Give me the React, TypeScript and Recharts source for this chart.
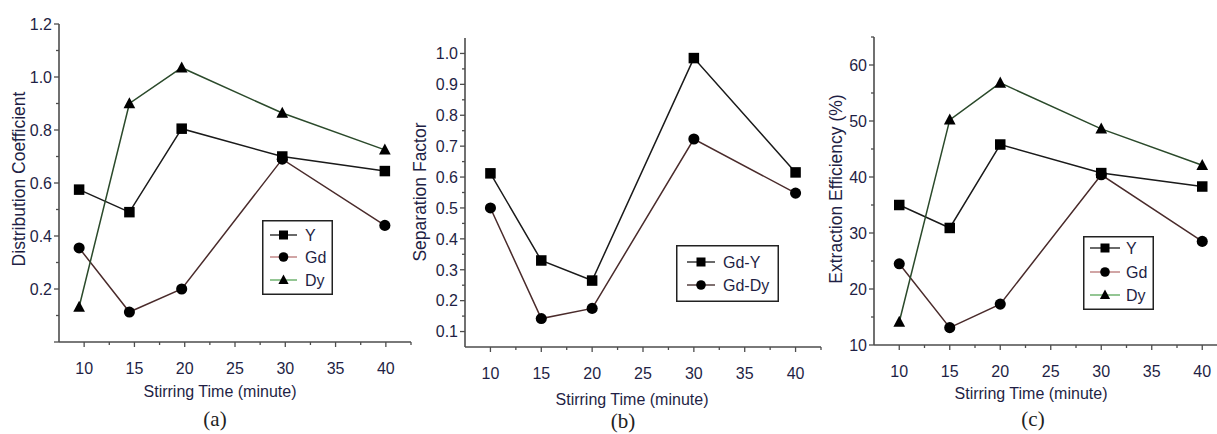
import React from 'react';
import { LineChart, Line, XAxis, YAxis, Legend } from 'recharts';

// ---------- data ----------
// Panel (a): Distribution coefficient
const stirTimeA = [9.5, 14.5, 19.7, 29.7, 39.9];
const distY = [0.575, 0.49, 0.805, 0.7, 0.645];
const distGd = [0.355, 0.113, 0.2, 0.69, 0.44];
const distDy = [0.132, 0.9, 1.035, 0.864, 0.725];

// Panel (b): Separation factor
const stirTimeB = [10, 15, 20, 30, 40];
const sepGdY = [0.612, 0.33, 0.265, 0.985, 0.615];
const sepGdDy = [0.5, 0.142, 0.175, 0.723, 0.548];

// Panel (c): Extraction efficiency (%)
const stirTimeC = [10, 15, 20, 30, 40];
const effY = [35, 30.9, 45.8, 40.7, 38.3];
const effGd = [24.5, 13.1, 17.3, 40.4, 28.5];
const effDy = [14.1, 50.2, 56.8, 48.6, 42.1];

// ticks
const xTicks = [10, 12.5, 15, 17.5, 20, 22.5, 25, 27.5, 30, 32.5, 35, 37.5, 40, 42.5];
const xMajor = [10, 15, 20, 25, 30, 35, 40];
const yTicksA = [0, 0.1, 0.2, 0.3, 0.4, 0.5, 0.6, 0.7, 0.8, 0.9, 1.0, 1.1, 1.2];
const yMajorA = [0.2, 0.4, 0.6, 0.8, 1.0, 1.2];
const yTicksB = [0.1, 0.15, 0.2, 0.25, 0.3, 0.35, 0.4, 0.45, 0.5, 0.55, 0.6, 0.65, 0.7, 0.75, 0.8, 0.85, 0.9, 0.95, 1.0];
const yMajorB = [0.1, 0.2, 0.3, 0.4, 0.5, 0.6, 0.7, 0.8, 0.9, 1.0];
const yTicksC = [10, 15, 20, 25, 30, 35, 40, 45, 50, 55, 60, 65];
const yMajorC = [10, 20, 30, 40, 50, 60];

const dataA = stirTimeA.map((x, i) => ({ x, Y: distY[i], Gd: distGd[i], Dy: distDy[i] }));
const dataB = stirTimeB.map((x, i) => ({ x, 'Gd-Y': sepGdY[i], 'Gd-Dy': sepGdDy[i] }));
const dataC = stirTimeC.map((x, i) => ({ x, Y: effY[i], Gd: effGd[i], Dy: effDy[i] }));

// ---------- styles ----------
const TEXT = '#1f1f45';
const AXIS = '#4d4d4d';
const SANS = '"Liberation Sans", Arial, sans-serif';
const SERIF = '"Liberation Serif", "Times New Roman", serif';

type Shape = 'square' | 'circle' | 'triangle';
interface SeriesCfg { key: string; shape: Shape; stroke: string; legendStroke: string }

const seriesElem: SeriesCfg[] = [
  { key: 'Y', shape: 'square', stroke: '#1a1a1a', legendStroke: '#1a1a1a' },
  { key: 'Gd', shape: 'circle', stroke: '#4a2b2b', legendStroke: '#b87474' },
  { key: 'Dy', shape: 'triangle', stroke: '#2b4a2b', legendStroke: '#5aa85a' },
];
const seriesSep: SeriesCfg[] = [
  { key: 'Gd-Y', shape: 'square', stroke: '#1a1a1a', legendStroke: '#1a1a1a' },
  { key: 'Gd-Dy', shape: 'circle', stroke: '#4a2b2b', legendStroke: '#3a2222' },
];

function Marker({ shape, cx, cy, size }: { shape: Shape; cx: number; cy: number; size: number }) {
  if (shape === 'square') {
    return <rect x={cx - size / 2} y={cy - size / 2} width={size} height={size} fill="#000" />;
  }
  if (shape === 'circle') {
    return <circle cx={cx} cy={cy} r={size / 2 + 0.3} fill="#000" />;
  }
  const h = size * 1.0;
  return (
    <polygon
      points={`${cx},${cy - h * 0.6} ${cx - size / 2 - 0.6},${cy + h * 0.45} ${cx + size / 2 + 0.6},${cy + h * 0.45}`}
      fill="#000"
    />
  );
}

const makeDot = (shape: Shape) => (props: any) => {
  const { cx, cy, index } = props;
  if (cx == null || cy == null) return <g key={`e-${index}`} />;
  return (
    <g key={`m-${shape}-${index}`}>
      <Marker shape={shape} cx={cx} cy={cy} size={10.5} />
    </g>
  );
};

const XTick = (props: any) => {
  const { x, y, payload } = props;
  const v = payload.value;
  const major = xMajor.includes(v);
  return (
    <g>
      <line x1={x} y1={y} x2={x} y2={y + (major ? 5 : 3)} stroke={AXIS} strokeWidth={1.3} />
      {major && (
        <text x={x} y={y + 32} textAnchor="middle" fontSize={16} fill={TEXT} fontFamily={SANS}>
          {v}
        </text>
      )}
    </g>
  );
};

const makeYTick = (majors: number[], fmt: (v: number) => string) => (props: any) => {
  const { x, y, payload } = props;
  const v = payload.value;
  const major = majors.includes(v) || v === 0;
  const labelled = majors.includes(v);
  return (
    <g>
      <line x1={x} y1={y} x2={x - (major ? 5 : 3)} y2={y} stroke={AXIS} strokeWidth={1.3} />
      {labelled && (
        <text x={x - 7} y={y} dy="0.36em" textAnchor="end" fontSize={16} fill={TEXT} fontFamily={SANS}>
          {fmt(v)}
        </text>
      )}
    </g>
  );
};

interface LegendGeom { left: number; top: number; width: number; height: number; rows: number[]; lineX1: number; lineX2: number; textX: number }

const LegendBox = ({ g, series }: { g: LegendGeom; series: SeriesCfg[] }) => (
  <svg width={g.width} height={g.height} style={{ display: 'block' }}>
    <rect x={0.75} y={0.75} width={g.width - 1.5} height={g.height - 1.5} fill="#fff" stroke="#222" strokeWidth={1.5} />
    {series.map((s, i) => {
      const cy = g.rows[i];
      const cx = (g.lineX1 + g.lineX2) / 2;
      return (
        <g key={s.key}>
          <line x1={g.lineX1} y1={cy} x2={g.lineX2} y2={cy} stroke={s.legendStroke} strokeWidth={1.3} />
          <Marker shape={s.shape} cx={cx} cy={cy} size={9} />
          <text x={g.textX} y={cy} dy="0.36em" fontSize={16} fill={TEXT} fontFamily={SANS}>
            {s.key}
          </text>
        </g>
      );
    })}
  </svg>
);

interface PanelProps {
  left: number;
  width: number;
  height: number;
  margin: { top: number; right: number; bottom: number; left: number };
  data: any[];
  series: SeriesCfg[];
  yDomain: [number, number];
  yTicks: number[];
  yMajor: number[];
  fmt: (v: number) => string;
  legend: LegendGeom;
}

const Panel = (p: PanelProps) => (
  <div style={{ position: 'absolute', left: p.left, top: 0 }}>
    <LineChart width={p.width} height={p.height} data={p.data} margin={p.margin}>
      <XAxis
        type="number"
        dataKey="x"
        domain={[7.5, 42.5]}
        ticks={xTicks}
        interval={0}
        tickSize={0}
        tickMargin={0}
        tick={(t: any) => <XTick {...t} />}
        axisLine={{ stroke: AXIS, strokeWidth: 1.6 }}
        height={30}
        allowDataOverflow
      />
      <YAxis
        type="number"
        domain={p.yDomain}
        ticks={p.yTicks}
        interval={0}
        tickSize={0}
        tickMargin={0}
        tick={makeYTick(p.yMajor, p.fmt)}
        axisLine={{ stroke: AXIS, strokeWidth: 1.6 }}
        width={50}
        allowDataOverflow
      />
      {p.series.map((s) => (
        <Line
          key={s.key}
          type="linear"
          dataKey={s.key}
          stroke={s.stroke}
          strokeWidth={1.5}
          dot={makeDot(s.shape)}
          activeDot={false}
          isAnimationActive={false}
        />
      ))}
      <Legend
        layout="vertical"
        align="center"
        verticalAlign="middle"
        wrapperStyle={{ left: p.legend.left - p.left, top: p.legend.top, width: p.legend.width, height: p.legend.height }}
        content={() => <LegendBox g={p.legend} series={p.series} />}
      />
    </LineChart>
  </div>
);

const fmt1 = (v: number) => v.toFixed(1);
const fmt0 = (v: number) => String(v);

export default function App() {
  return (
    <div style={{ position: 'absolute', left: 0, top: 0, width: 1217, height: 434, overflow: 'hidden', background: '#fff' }}>
      <Panel
        left={0}
        width={414}
        height={434}
        margin={{ top: 24, right: 3, bottom: 62, left: 9 }}
        data={dataA}
        series={seriesElem}
        yDomain={[0, 1.2]}
        yTicks={yTicksA}
        yMajor={yMajorA}
        fmt={fmt1}
        legend={{ left: 262, top: 220, width: 71, height: 75, rows: [15, 37, 60], lineX1: 8, lineX2: 35, textX: 43 }}
      />
      <Panel
        left={410}
        width={415}
        height={434}
        margin={{ top: 38, right: 4, bottom: 57, left: 5 }}
        data={dataB}
        series={seriesSep}
        yDomain={[0.05, 1.05]}
        yTicks={yTicksB}
        yMajor={yMajorB}
        fmt={fmt1}
        legend={{ left: 676, top: 245, width: 103, height: 57, rows: [17, 40], lineX1: 11, lineX2: 39, textX: 47 }}
      />
      <Panel
        left={818}
        width={412}
        height={434}
        margin={{ top: 37, right: 2.5, bottom: 59, left: 6 }}
        data={dataC}
        series={seriesElem}
        yDomain={[10, 65]}
        yTicks={yTicksC}
        yMajor={yMajorC}
        fmt={fmt0}
        legend={{ left: 1083, top: 236, width: 71, height: 74, rows: [12, 36, 59], lineX1: 7, lineX2: 37, textX: 43 }}
      />
      <svg width={1217} height={434} style={{ position: 'absolute', left: 0, top: 0, pointerEvents: 'none' }}>
        <g fontFamily={SANS} fill={TEXT}>
          <text x={25} y={179} fontSize={17.5} textAnchor="middle" transform="rotate(-90 25 179)">Distribution Coefficient</text>
          <text x={426} y={192} fontSize={17.5} textAnchor="middle" transform="rotate(-90 426 192)">Separation Factor</text>
          <text x={842} y={189} fontSize={17.5} textAnchor="middle" transform="rotate(-90 842 189)">Extraction Efficiency (%)</text>
          <text x={220} y={397} fontSize={16} textAnchor="middle">Stirring Time (minute)</text>
          <text x={632} y={405} fontSize={16} textAnchor="middle">Stirring Time (minute)</text>
          <text x={1031} y={399} fontSize={16} textAnchor="middle">Stirring Time (minute)</text>
        </g>
        <g fontFamily={SERIF} fill="#222" fontSize={21}>
          <text x={215} y={426} textAnchor="middle">(a)</text>
          <text x={623} y={428} textAnchor="middle">(b)</text>
          <text x={1033} y={426} textAnchor="middle">(c)</text>
        </g>
      </svg>
    </div>
  );
}
